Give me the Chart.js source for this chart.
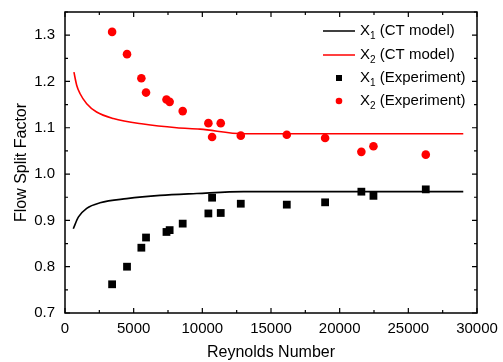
<!DOCTYPE html>
<html>
<head>
<meta charset="utf-8">
<script src="https://cdn.jsdelivr.net/npm/chart.js@4"></script>
<style>
  html, body { margin: 0; padding: 0; background: #fff; }
  #wrap { width: 503px; height: 362px; }
</style>
</head>
<body>
<div id="wrap"><canvas id="flow-chart" width="503" height="362"></canvas></div>
<script>
// Reynolds numbers of the experiments (shared by X1 and X2)
const reExp = [3430, 4516, 5560, 5900, 7390, 7620, 8570, 10440, 10710, 11340, 12800, 16150, 18940, 21580, 22460, 26270];
const x1Exp = [0.762, 0.800, 0.841, 0.863, 0.875, 0.879, 0.893, 0.915, 0.949, 0.916, 0.936, 0.934, 0.939, 0.962, 0.953, 0.967];
const x2Exp = [1.307, 1.259, 1.207, 1.176, 1.161, 1.156, 1.136, 1.110, 1.080, 1.110, 1.083, 1.085, 1.078, 1.048, 1.060, 1.042];

// CT model curves
const reModel1 = [605, 970, 1580, 2550, 4490, 6920, 9590, 13000, 29000];
const x1Model = [0.882, 0.907, 0.926, 0.938, 0.947, 0.954, 0.958, 0.962, 0.962];
const reModel2 = [650, 850, 1090, 1580, 2300, 3520, 5700, 8130, 9830, 13000, 29000];
const x2Model = [1.220, 1.192, 1.174, 1.152, 1.134, 1.120, 1.108, 1.100, 1.097, 1.087, 1.087];

const seriesNames = ['X1 (CT model)', 'X2 (CT model)', 'X1 (Experiment)', 'X2 (Experiment)'];
const xTicks = [0, 5000, 10000, 15000, 20000, 25000, 30000];
const yTicks = [0.7, 0.8, 0.9, 1.0, 1.1, 1.2, 1.3];

const FONT = '"Liberation Sans", Arial, sans-serif';

function pts(xs, ys) {
  return xs.map((x, i) => ({ x: x, y: ys[i] }));
}

// frame + inward ticks on all four sides
const framePlugin = {
  id: 'frame',
  afterDraw(chart) {
    const c = chart.ctx;
    const a = chart.chartArea;
    const xs = chart.scales.x;
    const ys = chart.scales.y;
    c.save();
    c.strokeStyle = '#000';
    c.lineWidth = 1.5;
    c.strokeRect(a.left, a.top, a.right - a.left, a.bottom - a.top);
    c.lineWidth = 1.2;
    c.beginPath();
    for (let v = 0; v <= 30000; v += 2500) {
      const p = xs.getPixelForValue(v);
      const len = v % 5000 === 0 ? 5 : 3;
      c.moveTo(p, a.bottom); c.lineTo(p, a.bottom - len);
      c.moveTo(p, a.top); c.lineTo(p, a.top + len);
    }
    for (let i = 0; i <= 13; i++) {
      const v = 0.7 + i * 0.05;
      const p = ys.getPixelForValue(v);
      const len = i % 2 === 0 ? 5 : 3;
      c.moveTo(a.left, p); c.lineTo(a.left + len, p);
      c.moveTo(a.right, p); c.lineTo(a.right - len, p);
    }
    c.stroke();
    c.restore();
  }
};

// legend with subscripts
const legendPlugin = {
  id: 'subLegend',
  afterDraw(chart) {
    const c = chart.ctx;
    const rowY = [31, 55, 78, 101];
    c.save();
    chart.data.datasets.forEach((ds, i) => {
      const y = rowY[i];
      if (ds.showLine) {
        c.strokeStyle = ds.borderColor;
        c.lineWidth = 1.5;
        c.beginPath();
        c.moveTo(323, y); c.lineTo(355, y);
        c.stroke();
      } else {
        c.fillStyle = ds.backgroundColor;
        c.beginPath();
        if (ds.pointStyle === 'rect') c.rect(336, y - 3, 6, 6);
        else c.arc(339, y, 3.3, 0, Math.PI * 2);
        c.fill();
      }
      const label = ds.label;
      c.fillStyle = '#000';
      c.textBaseline = 'middle';
      c.font = '15px ' + FONT;
      let x = 360;
      c.fillText(label[0], x, y);
      x += c.measureText(label[0]).width;
      c.font = '10px ' + FONT;
      c.fillText(label[1], x, y + 5);
      x += c.measureText(label[1]).width;
      c.font = '15px ' + FONT;
      c.fillText(label.slice(2), x, y);
    });
    c.restore();
  }
};

const ctx = document.getElementById('flow-chart').getContext('2d');
const flowChart = new Chart(ctx, {
  type: 'scatter',
  data: {
    datasets: [
      {
        label: seriesNames[0],
        data: pts(reModel1, x1Model),
        showLine: true,
        borderColor: '#000000',
        backgroundColor: '#000000',
        borderWidth: 1.6,
        pointRadius: 0,
        cubicInterpolationMode: 'monotone',
      },
      {
        label: seriesNames[1],
        data: pts(reModel2, x2Model),
        showLine: true,
        borderColor: '#ff0000',
        backgroundColor: '#ff0000',
        borderWidth: 1.6,
        pointRadius: 0,
        cubicInterpolationMode: 'monotone',
      },
      {
        label: seriesNames[2],
        data: pts(reExp, x1Exp),
        showLine: false,
        pointStyle: 'rect',
        pointRadius: 5.5,
        borderWidth: 0,
        backgroundColor: '#000000',
        borderColor: '#000000',
      },
      {
        label: seriesNames[3],
        data: pts(reExp, x2Exp),
        showLine: false,
        pointStyle: 'circle',
        pointRadius: 4.3,
        borderWidth: 0,
        backgroundColor: '#ff0000',
        borderColor: '#ff0000',
      },
    ],
  },
  options: {
    responsive: false,
    animation: false,
    layout: { padding: { left: 0, right: 26, top: 12, bottom: 0 } },
    plugins: {
      legend: { display: false },
      tooltip: { enabled: false },
    },
    scales: {
      x: {
        type: 'linear',
        min: 0,
        max: 30000,
        afterBuildTicks: (s) => { s.ticks = xTicks.map(v => ({ value: v })); },
        afterFit: (s) => { s.height = 49; s.paddingLeft = 0; s.paddingRight = 0; },
        grid: { display: false, drawTicks: false },
        border: { display: false },
        ticks: {
          color: '#000',
          padding: 7,
          font: { family: FONT, size: 15 },
          maxRotation: 0,
          callback: (v) => String(v),
        },
        title: {
          display: true,
          text: 'Reynolds Number',
          color: '#000',
          font: { family: FONT, size: 16 },
          padding: { top: 0, bottom: 0 },
        },
      },
      y: {
        type: 'linear',
        min: 0.7,
        max: 1.35,
        afterBuildTicks: (s) => { s.ticks = yTicks.map(v => ({ value: v })); },
        afterFit: (s) => { s.width = 65; s.paddingTop = 0; s.paddingBottom = 0; },
        grid: { display: false, drawTicks: false },
        border: { display: false },
        ticks: {
          color: '#000',
          padding: 10,
          font: { family: FONT, size: 15 },
          callback: (v) => v.toFixed(1),
        },
        title: {
          display: true,
          text: 'Flow Split Factor',
          color: '#000',
          font: { family: FONT, size: 16 },
          padding: { top: 12, bottom: 0 },
        },
      },
    },
  },
  plugins: [framePlugin, legendPlugin],
});
</script>
</body>
</html>
